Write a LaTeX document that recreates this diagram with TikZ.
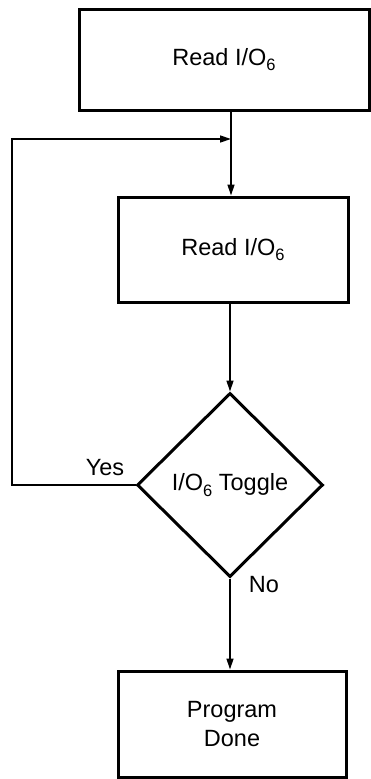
\documentclass[tikz,border=0pt]{standalone}
\usepackage{fontspec}
\setmainfont{Liberation Sans}
\usetikzlibrary{shapes.geometric,arrows.meta}
\newcommand{\subsix}{\raisebox{-0.22em}{\fontsize{16.5}{18}\selectfont 6}}
\begin{document}
\begin{tikzpicture}[x=1pt,y=-1pt,
  box/.style={draw,line width=3pt,inner sep=0pt,font=\fontsize{23.5}{29}\selectfont,align=center},
  conn/.style={line width=1.4pt},
  arr/.style={conn,-{Triangle[length=11pt,width=7pt]}},
  lbl/.style={font=\fontsize{23.5}{29}\selectfont,inner sep=0pt}]
\useasboundingbox (0,0) rectangle (371,779);
\node[box,minimum width=290pt,minimum height=101pt] (r1) at (224,59.5) {Read I/O\subsix};
\node[box,minimum width=230pt,minimum height=105pt] (r2) at (233,249.5) {Read I/O\subsix};
\node[box,shape=diamond,minimum width=186pt,minimum height=184pt] (dec) at (230,485) {I/O\subsix{} Toggle};
\node[box,minimum width=228pt,minimum height=106pt] (done) at (232,724) {Program\\Done};
\coordinate (j) at (231,139);
\coordinate (c1) at (12,485);
\coordinate (c2) at (12,139);
\draw[conn] (r1.south -| j) -- (j);
\draw[arr] (j) -- (j |- r2.north);
\draw[arr] (r2.south -| dec.north) -- (dec.north);
\draw[arr] (dec.south) -- (dec.south |- done.north);
\draw[arr] (dec.west) -- (c1) -- (c2) -- (j);
\node[lbl] (yes) at (105,468) {Yes};
\node[lbl] (no) at (264,585) {No};
\end{tikzpicture}
\end{document}
